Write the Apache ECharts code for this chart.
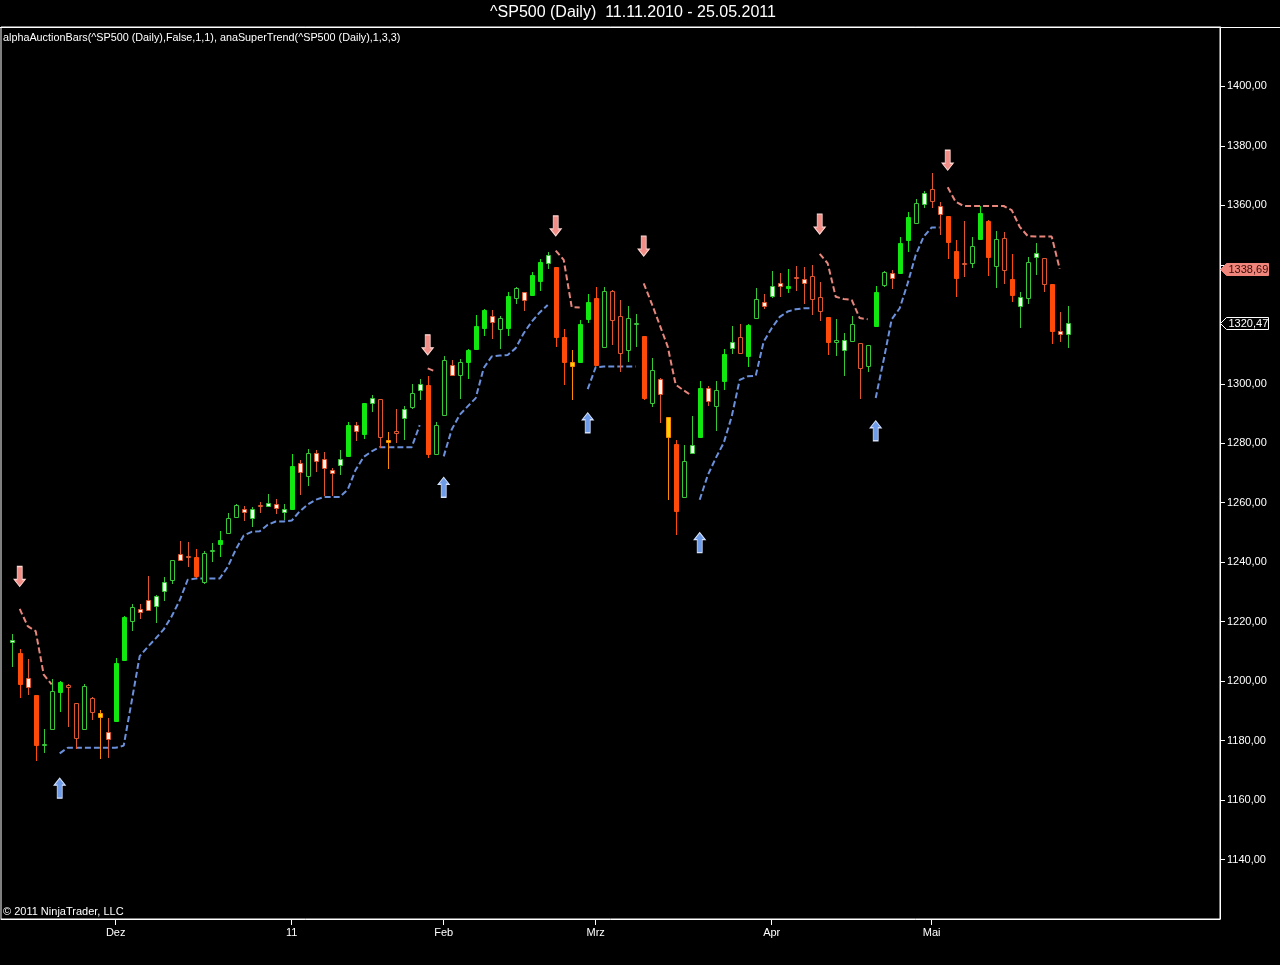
<!DOCTYPE html>
<html>
<head>
<meta charset="utf-8">
<script src="https://cdn.jsdelivr.net/npm/echarts@6/dist/echarts.min.js"></script>
<style>
html,body{margin:0;padding:0;background:#000;}
#chart{width:1280px;height:965px;}
</style>
</head>
<body>
<div id="chart"></div>
<script>
// ---- Data (bar index 0 = 11.11.2010, last = 25.05.2011) ----
const barType = ['wg','R','wr','R','g','g','G','r','r','g','r','y','wr','G','G','g','wr','wr','wg','wg',
 'g','wr','r','R','g','g','G','g','g','wr','wg','r','wg','wr','wg','G','wr','g','wr','wr',
 'wr','wg','G','wr','G','wg','r','y','r','wg','g','wg','R','g','g','wr','g','G','G','G',
 'wr','g','G','g','wr','G','G','wg','R','R','y','G','G','R','g','r','r','g','g','R',
 'g','wr','y','R','g','wg','G','wr','g','G','wg','r','G','g','wr','wg','wr','G','r','wr',
 'r','r','R','g','wg','g','r','g','G','g','wr','G','G','g','wg','r','wr','R','R','r',
 'g','G','R','g','r','R','wg','g','wg','r','R','wr','wg'];
const openP = [1213.2,1209.3,1200.9,1195.2,1178.4,1183.9,1196.4,1198.7,1192.7,1183.9,1194.4,1189.4,1183.0,1186.6,1207.1,1220.2,1224.1,1227.3,1225.4,1230.2,
 1233.9,1242.8,1242.0,1241.8,1233.5,1243.7,1246.0,1249.8,1255.2,1257.9,1254.9,1259.3,1258.8,1259.6,1256.8,1257.9,1273.4,1268.9,1276.8,1274.7,
 1271.1,1272.6,1275.8,1286.0,1283.1,1293.5,1294.9,1281.2,1284.0,1288.5,1292.2,1297.8,1299.7,1276.5,1289.4,1306.4,1302.8,1307.2,1311.8,1318.9,
 1322.8,1318.4,1318.9,1328.7,1330.8,1329.7,1334.7,1340.5,1339.2,1315.7,1307.3,1307.5,1321.7,1329.0,1312.5,1331.2,1322.9,1311.2,1320.1,1316.1,
 1293.5,1301.7,1288.8,1279.8,1261.8,1276.7,1282.0,1298.5,1292.4,1300.8,1312.0,1315.7,1309.4,1322.1,1327.6,1329.6,1334.0,1332.2,1336.0,1335.2,
 1336.4,1329.3,1322.4,1314.2,1311.4,1314.5,1313.7,1306.1,1319.3,1333.3,1337.4,1337.2,1348.4,1354.2,1360.4,1365.4,1359.9,1356.4,1344.7,1340.7,
 1340.5,1348.6,1354.9,1339.7,1348.9,1335.2,1326.3,1328.8,1342.6,1342.2,1333.6,1317.9,1316.7];
const closeP = [1214.0,1199.2,1198.0,1178.5,1178.9,1196.8,1199.8,1198.1,1181.0,1198.4,1189.6,1188.0,1180.7,1206.2,1221.6,1225.0,1223.3,1224.0,1228.7,1233.4,
 1240.8,1240.6,1241.6,1235.3,1243.1,1244.0,1247.5,1254.9,1259.4,1256.8,1257.9,1259.0,1259.9,1258.2,1257.9,1272.2,1270.3,1276.7,1273.9,1271.7,
 1270.0,1274.7,1286.2,1284.0,1293.5,1295.2,1282.0,1280.3,1283.6,1291.5,1296.9,1299.9,1276.4,1286.3,1308.1,1303.0,1307.5,1311.4,1319.5,1324.9,
 1320.9,1322.1,1329.6,1332.3,1328.2,1336.6,1340.9,1343.3,1315.6,1307.5,1306.1,1320.2,1327.6,1306.4,1331.2,1321.5,1310.3,1322.1,1320.5,1295.2,
 1304.7,1296.5,1282.1,1257.1,1274.1,1279.5,1298.7,1294.3,1298.0,1310.1,1314.0,1310.5,1319.8,1328.4,1326.0,1332.9,1333.0,1332.9,1335.7,1333.8,
 1328.4,1324.6,1314.2,1314.6,1314.8,1320.0,1305.3,1312.9,1330.8,1337.7,1335.5,1347.5,1356.0,1360.7,1364.1,1361.6,1357.1,1347.6,1335.5,1340.3,
 1346.5,1357.3,1342.6,1348.7,1338.3,1329.7,1329.3,1340.9,1343.9,1333.5,1317.6,1316.7,1320.47];
const lowP = [1204.8,1194.4,1195.3,1173.1,1175.7,1183.8,1189.6,1184.5,1177.1,1183.7,1186.9,1173.7,1174.0,1186.5,1206.9,1216.8,1221.0,1223.5,1219.4,1226.9,
 1232.7,1240.3,1238.4,1234.6,1232.8,1240.1,1241.7,1249.6,1255.0,1254.0,1251.9,1256.6,1258.7,1256.3,1254.3,1257.7,1262.7,1265.5,1270.5,1262.1,
 1262.4,1269.4,1275.6,1280.6,1281.4,1290.4,1278.4,1271.4,1280.1,1281.2,1291.5,1294.6,1275.2,1276.2,1289.1,1302.6,1295.0,1301.6,1311.7,1316.1,
 1315.0,1311.7,1316.1,1326.9,1324.5,1329.5,1331.2,1338.5,1312.5,1299.7,1294.4,1307.4,1320.6,1306.1,1312.4,1313.1,1304.1,1307.3,1312.5,1294.4,
 1292.2,1286.8,1261.0,1249.0,1261.6,1276.4,1281.8,1292.6,1284.2,1297.8,1310.1,1310.4,1305.5,1322.0,1325.2,1328.9,1329.3,1330.5,1331.2,1326.9,
 1323.2,1321.2,1309.7,1309.4,1302.5,1314.0,1294.9,1304.1,1319.2,1332.6,1331.8,1337.0,1344.4,1353.8,1359.0,1359.0,1350.0,1342.0,1329.3,1335.8,
 1338.9,1348.5,1336.3,1332.3,1333.6,1327.6,1318.7,1326.9,1336.6,1331.0,1313.4,1313.9,1312.0];
const highP = [1215.7,1210.9,1207.6,1195.4,1183.8,1200.6,1200.2,1199.2,1192.8,1198.9,1194.5,1190.3,1187.7,1207.9,1222.0,1225.8,1226.1,1235.4,1229.1,1235.1,
 1240.9,1247.0,1246.8,1244.5,1243.6,1246.5,1250.6,1256.4,1259.6,1259.0,1258.4,1260.4,1263.0,1261.4,1259.6,1276.5,1274.5,1278.1,1277.6,1276.9,
 1271.7,1277.6,1287.3,1287.1,1293.6,1296.3,1295.0,1283.8,1291.5,1292.5,1299.8,1301.6,1302.7,1287.3,1309.4,1308.1,1308.3,1311.6,1323.2,1325.1,
 1324.9,1322.8,1330.8,1332.5,1330.9,1337.7,1342.0,1344.4,1339.3,1318.4,1311.4,1321.3,1330.1,1332.7,1332.5,1331.5,1328.2,1326.2,1323.4,1316.2,
 1308.6,1302.0,1289.0,1281.2,1279.3,1289.2,1301.0,1299.4,1301.0,1311.7,1319.6,1320.2,1320.0,1332.1,1330.2,1337.9,1337.4,1338.5,1339.6,1339.4,
 1340.0,1334.2,1322.5,1321.7,1317.0,1322.9,1313.8,1313.0,1332.9,1337.8,1338.3,1349.5,1357.9,1362.0,1364.8,1371.0,1361.2,1356.5,1348.4,1354.8,
 1349.5,1359.8,1355.0,1351.4,1350.9,1343.6,1330.8,1342.6,1347.3,1342.3,1333.7,1324.1,1326.3];

// SuperTrend values (null = not plotted)
const n = null;
const superTrendUp = [n,n,n,n,n,n,1175.7,1177.6,1177.6,1177.6,1177.6,1177.6,1177.6,1177.6,1178.3,1193.3,1208.4,1211.5,1214.4,1217.4,
 1221.8,1227.2,1234.1,1234.5,1234.5,1234.5,1234.5,1238.4,1244.2,1249.0,1250.2,1250.4,1252.6,1253.7,1253.7,1254.0,1257.1,1259.4,1261.0,1261.9,
 1261.9,1261.9,1264.4,1271.1,1275.4,1277.3,1278.7,1278.7,1278.7,1278.7,1278.7,1286.1,n,n,1275.6,1284.6,1289.6,1292.4,1295.2,1305.3,
 1309.2,1309.5,1309.7,1312.0,1317.0,1320.9,1324.0,1326.5,n,n,n,n,1298.2,1305.6,1305.8,1305.8,1305.8,1305.8,1305.8,n,
 n,n,n,n,n,n,1261.0,1269.2,1275.0,1280.1,1289.0,1301.3,1302.5,1302.7,1314.2,1318.7,1322.5,1324.3,1325.1,1325.4,
 1325.4,n,n,n,n,n,n,n,1295.2,1308.1,1321.7,1325.4,1333.8,1343.3,1349.5,1352.6,1352.6,n,n,n,
 n,n,n,n,n,n,n,n,n,n,n,n,n];
const superTrendDown = [n,1224.3,1218.5,1216.8,1202.2,1198.9,n,n,n,n,n,n,n,n,n,n,n,n,n,n,
 n,n,n,n,n,n,n,n,n,n,n,n,n,n,n,n,n,n,n,n,
 n,n,n,n,n,n,n,n,n,n,n,n,1305.2,1304.1,n,n,n,n,n,n,
 n,n,n,n,n,n,n,n,1344.8,1341.7,1325.8,1325.7,n,n,n,n,n,n,n,1333.8,
 1327.0,1319.8,1312.5,1299.7,1297.8,1296.0,n,n,n,n,n,n,n,n,n,n,n,n,n,n,
 n,1343.7,1340.5,1329.3,1328.5,1328.2,1322.1,1321.7,n,n,n,n,n,n,n,n,n,1366.1,1361.2,1359.8,
 1359.8,1359.8,1359.8,1359.8,1359.8,1358.4,1352.8,1349.7,1349.5,1349.5,1349.5,1338.69,n];

const downArrowIndex = [1, 52, 68, 79, 101, 117];
const downArrowValue = [1235.2, 1313.1, 1353.1, 1346.3, 1353.7, 1375.2];
const upArrowIndex = [6, 54, 72, 86, 108];
const upArrowValue = [1164.0, 1265.2, 1286.9, 1246.6, 1284.2];

const monthTickIndex = [13, 35, 54, 73, 95, 115];
const monthLabels = ['Dez', '11', 'Feb', 'Mrz', 'Apr', 'Mai'];

const lastSuperTrend = 1338.69;
const lastClose = 1320.47;
const tagValues = [lastSuperTrend, lastClose];

// ---- Styles ----
const STYLE = {
  G:  {fill: '#10e810', stroke: '#10e810'},
  g:  {fill: '#000000', stroke: '#36c936'},
  R:  {fill: '#ff4a0a', stroke: '#ff4a0a'},
  r:  {fill: '#000000', stroke: '#e0562e'},
  wg: {fill: '#f2fff0', stroke: '#36c936'},
  wr: {fill: '#fff3ec', stroke: '#e0562e'},
  y:  {fill: '#ffd400', stroke: '#ff8a00'}
};
const FONT = '"Liberation Sans", Arial, sans-serif';

const candleData = barType.map((t, i) => [i, openP[i], closeP[i], lowP[i], highP[i]]);

function renderCandle(params, api) {
  const i = api.value(0);
  const o = api.value(1), c = api.value(2), l = api.value(3), h = api.value(4);
  const st = STYLE[barType[params.dataIndex]];
  const pO = api.coord([i, o]), pC = api.coord([i, c]);
  const pL = api.coord([i, l]), pH = api.coord([i, h]);
  const cx = Math.round(pO[0]);
  const top = Math.round(Math.min(pO[1], pC[1]));
  const bot = Math.round(Math.max(pO[1], pC[1]));
  const yH = Math.round(pH[1]), yL = Math.round(pL[1]);
  const lx = cx + 0.5;
  const children = [];
  if (yH < top) children.push({type: 'line', shape: {x1: lx, y1: yH, x2: lx, y2: top}, style: {stroke: st.stroke, lineWidth: 1}});
  if (yL > bot) children.push({type: 'line', shape: {x1: lx, y1: bot, x2: lx, y2: yL}, style: {stroke: st.stroke, lineWidth: 1}});
  children.push({type: 'rect', shape: {x: cx - 1.5, y: top + 0.5, width: 4, height: Math.max(0, bot - top)},
    style: {fill: st.fill, stroke: st.stroke, lineWidth: 1}});
  return {type: 'group', children: children};
}

const chart = echarts.init(document.getElementById('chart'), null, {renderer: 'canvas'});

const GRID = {left: 1, right: 60, top: 27, bottom: 46};
const X_MIN = -1.3375, X_MAX = 151.0375;
const Y_MIN = 1120, Y_MAX = 1420;
const PX_PER_UNIT = (965 - GRID.top - GRID.bottom) / (Y_MAX - Y_MIN);

const baseGraphic = [
  {type: 'line', shape: {x1: 0, y1: 27.5, x2: 1280, y2: 27.5}, style: {stroke: '#ffffff', lineWidth: 1}, z: 10},
  {type: 'text', x: 633, y: 13, style: {text: '^SP500 (Daily)  11.11.2010 - 25.05.2011', fill: '#ffffff',
    font: '16px ' + FONT, textAlign: 'center', textVerticalAlign: 'middle'}, z: 10},
  {type: 'text', x: 3, y: 38, style: {text: 'alphaAuctionBars(^SP500 (Daily),False,1,1), anaSuperTrend(^SP500 (Daily),1,3,3)',
    fill: '#ffffff', font: '10.8px ' + FONT, textAlign: 'left', textVerticalAlign: 'middle'}, z: 10},
  {type: 'text', x: 3, y: 912, style: {text: '\u00a9 2011 NinjaTrader, LLC', fill: '#ffffff',
    font: '11px ' + FONT, textAlign: 'left', textVerticalAlign: 'middle'}, z: 10}
];

const option = {
  backgroundColor: '#000000',
  animation: false,
  grid: Object.assign({show: true, borderColor: '#ffffff', borderWidth: 1, backgroundColor: 'transparent'}, GRID),
  xAxis: {
    type: 'value', min: X_MIN, max: X_MAX,
    splitLine: {show: false},
    axisLine: {show: true, onZero: false, lineStyle: {color: '#ffffff', width: 1}},
    axisTick: {show: true, customValues: monthTickIndex, length: 6, lineStyle: {color: '#ffffff'}},
    axisLabel: {show: true, customValues: monthTickIndex, color: '#ffffff', fontFamily: FONT, fontSize: 11, margin: 8,
      formatter: function (v) { const k = monthTickIndex.indexOf(Math.round(v)); return k >= 0 ? monthLabels[k] : ''; }}
  },
  yAxis: {
    type: 'value', position: 'right', min: Y_MIN, max: Y_MAX, interval: 20,
    splitLine: {show: false},
    axisLine: {show: true, onZero: false, lineStyle: {color: '#ffffff', width: 1}},
    axisTick: {show: true, length: 5, lineStyle: {color: '#ffffff'}},
    axisLabel: {color: '#ffffff', fontFamily: FONT, fontSize: 11, margin: 7, showMinLabel: false, showMaxLabel: false,
      formatter: function (v) {
        // labels hidden behind the price tags
        for (const t of tagValues) { if (Math.abs(v - t) * PX_PER_UNIT < 13) return ''; }
        return v.toFixed(2).replace('.', ',');
      }}
  },
  series: [
    {
      type: 'line', name: 'stUp', z: 2,
      data: superTrendUp.map((v, i) => [i, v == null ? '-' : v]),
      symbol: 'none', connectNulls: false,
      lineStyle: {color: '#6b91dc', width: 2, type: [6, 3]}
    },
    {
      type: 'line', name: 'stDown', z: 2,
      data: superTrendDown.map((v, i) => [i, v == null ? '-' : v]),
      symbol: 'none', connectNulls: false,
      lineStyle: {color: '#e8867c', width: 2, type: [6, 3]}
    },
    {
      type: 'custom', name: 'bars', z: 3,
      renderItem: renderCandle,
      encode: {x: 0, y: [1, 2, 3, 4]},
      data: candleData,
      clip: true
    },
    {
      type: 'scatter', name: 'down', z: 4,
      data: downArrowIndex.map((x, k) => [x, downArrowValue[k]]),
      symbol: 'path://M3,0 L8,0 L8,13 L11,13 L5.5,20 L0,13 L3,13 Z',
      symbolSize: [11, 20],
      itemStyle: {color: '#f28e88', borderColor: '#ffd6d2', borderWidth: 1, opacity: 1}
    },
    {
      type: 'scatter', name: 'up', z: 4,
      data: upArrowIndex.map((x, k) => [x, upArrowValue[k]]),
      symbol: 'path://M5.5,0 L11,7 L8,7 L8,20 L3,20 L3,7 L0,7 Z',
      symbolSize: [11, 20],
      itemStyle: {color: '#6f9ce9', borderColor: '#d2e0fb', borderWidth: 1, opacity: 1}
    }
  ],
  graphic: baseGraphic
};
chart.setOption(option);

// Price tags on the right axis (positions from the axis scale), on a layer above the axis labels
function tag(value, fill, stroke, textColor) {
  const y = Math.round(chart.convertToPixel({yAxisIndex: 0}, value)) + 0.5;
  const x0 = 1220.5;
  return {
    type: 'group', zlevel: 1, z: 50,
    children: [
      {type: 'polygon', zlevel: 1, shape: {points: [[x0, y], [x0 + 6, y - 6], [x0 + 48, y - 6], [x0 + 48, y + 6], [x0 + 6, y + 6]]},
        style: {fill: fill, stroke: stroke, lineWidth: 1}},
      {type: 'text', zlevel: 1, x: x0 + 8, y: y, style: {text: value.toFixed(2).replace('.', ','), fill: textColor,
        font: '11px ' + FONT, textAlign: 'left', textVerticalAlign: 'middle'}}
    ]
  };
}
chart.setOption({graphic: baseGraphic.concat([
  tag(lastSuperTrend, '#f0857c', '#f0857c', '#3a0a06'),
  tag(lastClose, '#000000', '#ffffff', '#ffffff')
])});
</script>
</body>
</html>
